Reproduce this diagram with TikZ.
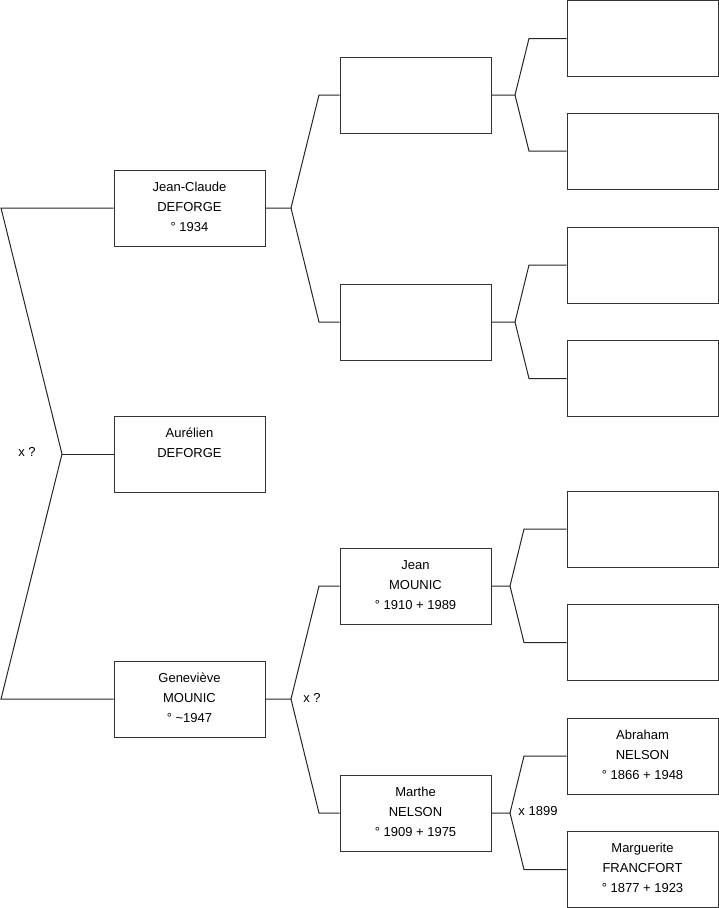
\documentclass[tikz,border=0pt]{standalone}
\usepackage{fontspec}
\setmainfont{Liberation Sans}
\newcommand{\famtext}[1]{\begin{minipage}[c][76pt][t]{151pt}\centering\fontsize{13}{20}\selectfont\rule{0pt}{21.3pt}#1\end{minipage}}
\begin{document}
\begin{tikzpicture}[x=1pt,y=-1pt,
  person/.style={draw=black!80, line width=1pt, inner sep=0pt},
  link/.style={draw=black!85, line width=1pt},
  mlabel/.style={font=\fontsize{13}{16}\selectfont, inner sep=0pt}]
\useasboundingbox (0,0) rectangle (719,908);
% generation 1
\node[person] (jc) at (189.5,208) {\famtext{Jean-Claude\\DEFORGE\\° 1934}};
\node[person] (au) at (189.5,454) {\famtext{Aurélien\\DEFORGE}};
\node[person] (gm) at (189.5,699) {\famtext{Geneviève\\MOUNIC\\° \textasciitilde 1947}};
% generation 2
\node[person] (p1) at (415.5,95) {\famtext{}};
\node[person] (p2) at (415.5,322) {\famtext{}};
\node[person] (p3) at (415.5,586) {\famtext{Jean\\MOUNIC\\° 1910 + 1989}};
\node[person] (p4) at (415.5,813) {\famtext{Marthe\\NELSON\\° 1909 + 1975}};
% generation 3
\node[person] (g1) at (642.5,38.5) {\famtext{}};
\node[person] (g2) at (642.5,151) {\famtext{}};
\node[person] (g3) at (642.5,265) {\famtext{}};
\node[person] (g4) at (642.5,378.5) {\famtext{}};
\node[person] (g5) at (642.5,529) {\famtext{}};
\node[person] (g6) at (642.5,642.5) {\famtext{}};
\node[person] (g7) at (642.5,756) {\famtext{Abraham\\NELSON\\° 1866 + 1948}};
\node[person] (g8) at (642.5,869.5) {\famtext{Marguerite\\FRANCFORT\\° 1877 + 1923}};
% left fork
\coordinate (l1) at (1,208);
\coordinate (lm) at (62,454);
\coordinate (l2) at (1,699);
\draw[link] (jc.west) -- (l1) -- (lm) -- (l2) -- (gm.west);
\draw[link] (lm) -- (au.west);
\node[mlabel] (x1) at (27,452) {x ?};
% forks gen1 -> gen2
\coordinate (f1) at (291,208);
\coordinate (f1a) at (319,95);
\coordinate (f1b) at (319,322);
\draw[link] (jc.east) -- (f1) -- (f1a) -- (p1.west);
\draw[link] (f1) -- (f1b) -- (p2.west);
\coordinate (f2) at (291,699);
\coordinate (f2a) at (319,586);
\coordinate (f2b) at (319,813);
\draw[link] (gm.east) -- (f2) -- (f2a) -- (p3.west);
\draw[link] (f2) -- (f2b) -- (p4.west);
\node[mlabel] (x2) at (312,698) {x ?};
% forks gen2 -> gen3
\coordinate (h1) at (515,95);
\coordinate (h1a) at (529,38.5);
\coordinate (h1b) at (529,151);
\draw[link] (p1.east) -- (h1) -- (h1a) -- (g1.west);
\draw[link] (h1) -- (h1b) -- (g2.west);
\coordinate (h2) at (515,322);
\coordinate (h2a) at (529,265);
\coordinate (h2b) at (529,378.5);
\draw[link] (p2.east) -- (h2) -- (h2a) -- (g3.west);
\draw[link] (h2) -- (h2b) -- (g4.west);
\coordinate (h3) at (510,586);
\coordinate (h3a) at (524,529);
\coordinate (h3b) at (524,642.5);
\draw[link] (p3.east) -- (h3) -- (h3a) -- (g5.west);
\draw[link] (h3) -- (h3b) -- (g6.west);
\coordinate (h4) at (510,813);
\coordinate (h4a) at (524,756);
\coordinate (h4b) at (524,869.5);
\draw[link] (p4.east) -- (h4) -- (h4a) -- (g7.west);
\draw[link] (h4) -- (h4b) -- (g8.west);
\node[mlabel] (x3) at (538,811) {x 1899};
\end{tikzpicture}
\end{document}
